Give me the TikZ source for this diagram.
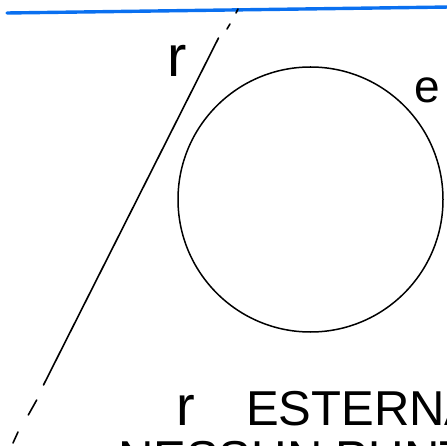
\documentclass[tikz,border=0pt]{standalone}
\usepackage{fontspec}
\setmainfont{Liberation Sans}
\definecolor{penblue}{RGB}{10,112,240}
\tikzset{
  pen/.style={line width=1.6pt, line cap=round, black},
  hand/.style={inner sep=0pt, font=\fontsize{#1}{#1}\selectfont},
}
\begin{document}
\begin{tikzpicture}[x=1pt,y=-1pt]
\useasboundingbox (0,0) rectangle (447,446);
\clip (0,0) rectangle (447,446);
% blue line at top
\coordinate (bl) at (7,13);
\coordinate (br) at (450,7);
\draw[penblue, line width=3.4pt, line cap=round] (bl) -- (br);
% line r
\coordinate (rA) at (218.5,38);
\coordinate (rB) at (43.5,385);
\draw[pen] (rA) -- (rB);
\coordinate (d1a) at (227,29); \coordinate (d1b) at (230,24);
\coordinate (d2a) at (236,13); \coordinate (d2b) at (238,9);
\coordinate (d3a) at (36.7,400); \coordinate (d3b) at (28.3,415);
\coordinate (d4a) at (18,432); \coordinate (d4b) at (13,443);
\draw[pen] (d1a) -- (d1b);
\draw[pen] (d2a) -- (d2b);
\draw[pen] (d3a) -- (d3b);
\draw[pen] (d4a) -- (d4b);
% circle
\coordinate (c) at (310.5,199.5);
\draw[pen, line width=1.5pt] (c) circle[radius=132.5];
% labels
\node[hand=58, anchor=base] (labr) at (177,77) {r};
\node[hand=46, anchor=base] (labe) at (427,103) {e};
\node[hand=56, anchor=base] (txtr) at (186,425) {r};
\node[hand=49, anchor=base west] (txt1) at (246,425) {ESTERNA};
\node[hand=49, anchor=base west] (txt2) at (118,475) {NESSUN PUNTO IN COMUNE};
\end{tikzpicture}
\end{document}
